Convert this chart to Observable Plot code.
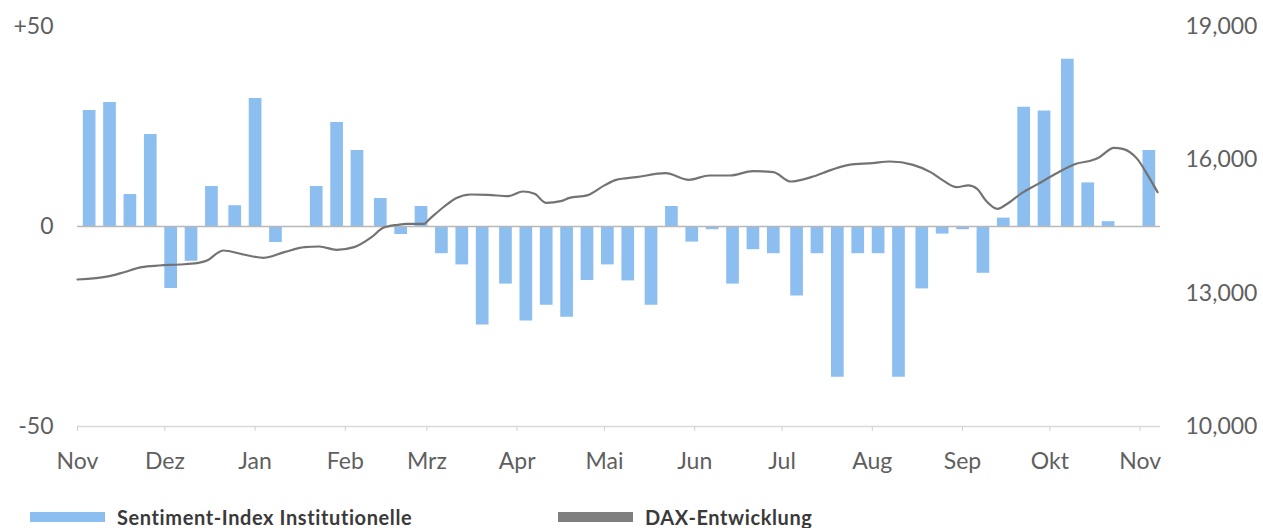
<!DOCTYPE html>
<html><head><meta charset="utf-8">
<script src="https://cdn.jsdelivr.net/npm/d3@7"></script>
<script src="https://cdn.jsdelivr.net/npm/@observablehq/plot@0.6"></script>
<style>
body{margin:0;background:#fff;}
#wrap{position:relative;width:1263px;height:528px;overflow:hidden;}
.leg{position:absolute;top:506px;display:flex;align-items:center;font-family:Lato,sans-serif;font-weight:700;font-size:20px;letter-spacing:0.6px;color:#3a3a3a;line-height:22px;}
.sw{width:75px;height:10px;margin-right:12px;}
</style></head><body><div id="wrap"></div>
<script>
// Sentiment-Index Institutionelle (weekly bars)
const sentimentDates = [
"2022-11-05","2022-11-12","2022-11-19","2022-11-26","2022-12-03","2022-12-10","2022-12-17","2022-12-25",
"2023-01-01","2023-01-08","2023-01-15","2023-01-22","2023-01-29","2023-02-05","2023-02-13","2023-02-20",
"2023-02-27","2023-03-06","2023-03-13","2023-03-20","2023-03-28","2023-04-04","2023-04-11","2023-04-18",
"2023-04-25","2023-05-02","2023-05-09","2023-05-17","2023-05-24","2023-05-31","2023-06-07","2023-06-14",
"2023-06-21","2023-06-28","2023-07-06","2023-07-13","2023-07-20","2023-07-27","2023-08-03","2023-08-10",
"2023-08-18","2023-08-25","2023-09-01","2023-09-08","2023-09-15","2023-09-22","2023-09-29","2023-10-07",
"2023-10-14","2023-10-21","2023-10-28","2023-11-04"];
const sentimentValues = [
29, 31, 8, 23, -15.5, -8.7, 10, 5.2,
32, -4, null, 10, 26, 19, 7, -2,
5, -6.8, -9.6, -24.6, -14.4, -23.6, -19.7, -22.7,
-13.5, -9.6, -13.6, -19.7, 5, -3.9, -0.8, -14.4,
-5.8, -6.8, -17.4, -6.8, -37.7, -6.8, -6.8, -37.7,
-15.6, -1.9, -0.8, -11.7, 2.1, 29.8, 28.9, 41.8,
10.9, 1.2, null, 19];

// DAX-Entwicklung (line)
const daxDates = [
"2022-11-01","2022-11-12","2022-11-17","2022-11-23","2022-11-29","2022-12-06","2022-12-12","2022-12-16",
"2022-12-19","2022-12-21","2022-12-28","2023-01-04","2023-01-11","2023-01-18","2023-01-23","2023-01-29",
"2023-02-04","2023-02-10","2023-02-14","2023-02-19","2023-02-22","2023-02-28","2023-03-02","2023-03-07",
"2023-03-11","2023-03-16","2023-03-22","2023-03-29","2023-04-03","2023-04-07","2023-04-11","2023-04-16",
"2023-04-19","2023-04-25","2023-05-01","2023-05-05","2023-05-12","2023-05-22","2023-05-30","2023-06-06",
"2023-06-13","2023-06-21","2023-06-28","2023-07-04","2023-07-11","2023-07-18","2023-07-24","2023-08-01",
"2023-08-07","2023-08-15","2023-08-21","2023-08-25","2023-08-30","2023-09-03","2023-09-06","2023-09-09",
"2023-09-13","2023-09-16","2023-09-21","2023-09-27","2023-10-03","2023-10-10","2023-10-16","2023-10-18",
"2023-10-23","2023-10-26","2023-10-31","2023-11-04","2023-11-07"];
const daxValues = [
13307, 13383, 13472, 13585, 13622, 13645, 13675, 13750,
13900, 13960, 13870, 13795, 13922, 14035, 14050, 13975,
14035, 14260, 14470, 14538, 14560, 14560, 14673, 14950,
15137, 15220, 15213, 15182, 15287, 15235, 15032, 15070,
15145, 15200, 15425, 15550, 15610, 15700, 15550, 15648,
15648, 15745, 15723, 15512, 15610, 15775, 15887, 15925,
15962, 15887, 15723, 15550, 15385, 15425, 15347, 15085,
14897, 14995, 15235, 15460, 15685, 15910, 16000, 16060,
16270, 16247, 16022, 15610, 15272];

const monthNames = ["Jan","Feb","Mrz","Apr","Mai","Jun","Jul","Aug","Sep","Okt","Nov","Dez"];
const leftTicks = [-50, 0, 50];
const rightTicks = [10000, 13000, 16000, 19000];
const legendLabels = ["Sentiment-Index Institutionelle", "DAX-Entwicklung"];

const barColor = "#8dbef0";
const lineColor = "#737373";

// map DAX (right axis 10,000–19,000) onto left scale (-50–+50)
const toLeft = v => -50 + (v - 10000) * 100 / 9000;
const fromLeft = s => 10000 + (s + 50) * 9000 / 100;

const bars = sentimentDates.map((d, i) => ({date: new Date(d), value: sentimentValues[i]}))
  .filter(d => d.value != null);
const dax = daxDates.map((d, i) => ({date: new Date(d), value: daxValues[i]}));
const monthTicks = d3.utcMonth.range(new Date("2022-11-01"), new Date("2023-11-02"));

const chart = Plot.plot({
  width: 1263, height: 480,
  marginLeft: 77, marginRight: 103, marginTop: 26, marginBottom: 54,
  style: {fontFamily: "Lato, sans-serif", fontSize: "23px", color: "#5f5f5f", background: "#fff"},
  x: {type: "utc", domain: [new Date("2022-11-01"), new Date("2023-11-08")], axis: null},
  y: {domain: [-50, 50], axis: null},
  marks: [
    Plot.ruleY([-50], {stroke: "#d9d9d9", strokeWidth: 1.5}),
    Plot.axisX({ticks: monthTicks, tickSize: 5, tickPadding: 21, stroke: "#d0d0d0", fill: "#5f5f5f",
      label: null, tickFormat: d => monthNames[d.getUTCMonth()]}),
    Plot.ruleX(bars, {x: "date", y1: 0, y2: "value", stroke: barColor, strokeWidth: 12.7}),
    Plot.ruleY([0], {stroke: "#b8b8b8", strokeWidth: 1.5}),
    Plot.line(dax, {x: "date", y: d => toLeft(d.value), stroke: lineColor, strokeWidth: 2.2, curve: "monotone-x"}),
    Plot.axisY({anchor: "left", ticks: leftTicks, tickSize: 0, tickPadding: 24, fill: "#5f5f5f",
      label: null, tickFormat: d => d > 0 ? "+" + d : String(d)}),
    Plot.axisY({anchor: "right", ticks: rightTicks.map(toLeft), tickSize: 0, tickPadding: 25, fill: "#5f5f5f",
      label: null, tickFormat: d => d3.format(",")(Math.round(fromLeft(d)))})
  ]
});

const wrap = document.getElementById("wrap");
wrap.appendChild(chart);
const legendColors = [barColor, "#7f7f7f"];
const legendLeft = [30, 558];
legendLabels.forEach((label, i) => {
  const item = document.createElement("div");
  item.className = "leg";
  item.style.left = legendLeft[i] + "px";
  item.innerHTML = `<span class="sw" style="background:${legendColors[i]}"></span><span>${label}</span>`;
  wrap.appendChild(item);
});
</script></body></html>
